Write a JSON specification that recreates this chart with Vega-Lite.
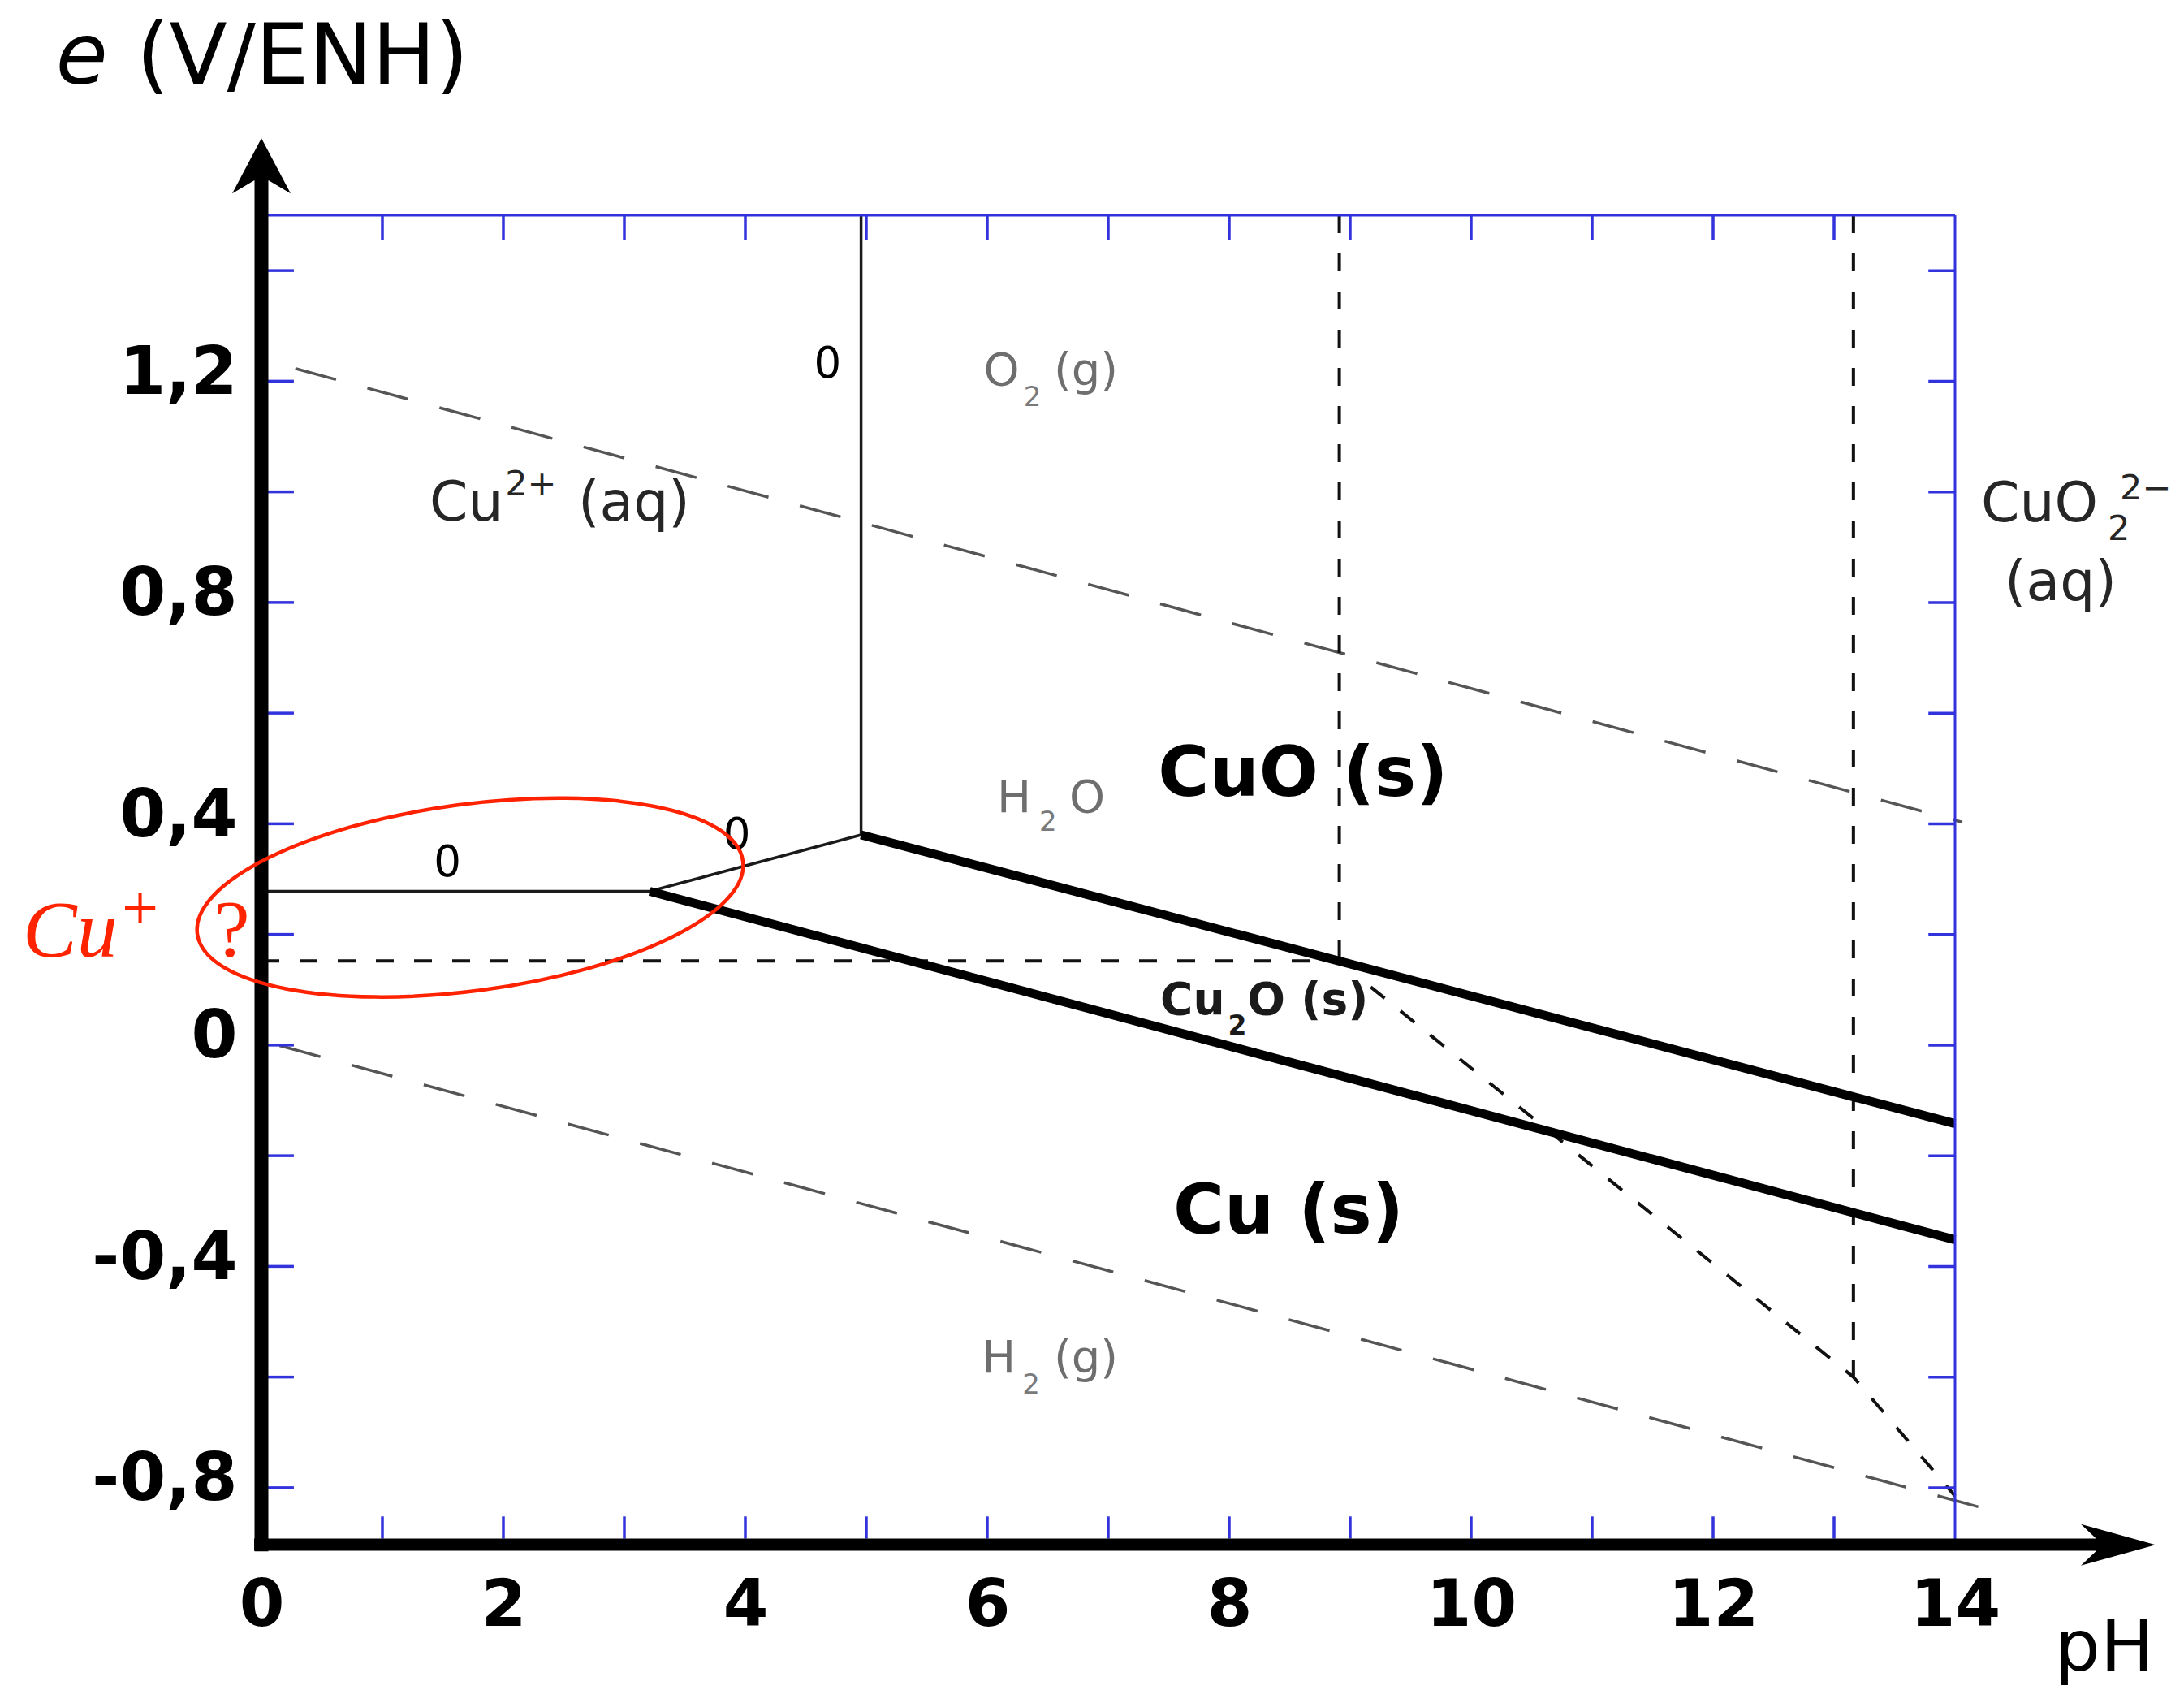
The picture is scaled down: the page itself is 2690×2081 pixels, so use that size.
{
  "$schema": "https://vega.github.io/schema/vega-lite/v6.json",
  "width": 2086,
  "height": 1635,
  "autosize": {"type": "none"},
  "padding": {"left": 322, "top": 265, "right": 282, "bottom": 181},
  "background": "#ffffff",
  "config": {
    "view": {"stroke": null},
    "axis": {"grid": false, "title": null, "domain": false, "ticks": false, "tickSize": 0, "labelFlush": false, "labelOverlap": false},
    "axisX": {"labelFont": "DejaVu Sans", "labelFontWeight": "bold", "labelFontSize": 80, "labelColor": "#000000", "labelPadding": 38, "labelBaseline": "top", "labelAlign": "center"},
    "axisY": {"labelFont": "DejaVu Sans", "labelFontWeight": "bold", "labelFontSize": 82, "labelColor": "#000000", "labelPadding": 30, "labelBaseline": "alphabetic", "labelAlign": "right", "labelOffset": 15}
  },
  "datasets": {
    "water": [
      {"id": "o2", "pH": 0.28, "E": 1.223},
      {"id": "o2", "pH": 14.06, "E": 0.403},
      {"id": "h2", "pH": 0.15, "E": -0.001},
      {"id": "h2", "pH": 14.25, "E": -0.838}
    ],
    "dashed": [
      {"id": "h", "pH": 0, "E": 0.152},
      {"id": "h", "pH": 8.91, "E": 0.152},
      {"id": "v9", "pH": 8.91, "E": 1.5},
      {"id": "v9", "pH": 8.91, "E": 0.152},
      {"id": "v13", "pH": 13.16, "E": 1.5},
      {"id": "v13", "pH": 13.16, "E": -0.6},
      {"id": "d", "pH": 9.17, "E": 0.105},
      {"id": "d", "pH": 13.16, "E": -0.6},
      {"id": "d", "pH": 14.0, "E": -0.815}
    ],
    "thin": [
      {"id": "v5", "pH": 4.957, "E": 1.5},
      {"id": "v5", "pH": 4.957, "E": 0.38},
      {"id": "h28", "pH": 0, "E": 0.278},
      {"id": "h28", "pH": 3.21, "E": 0.278},
      {"id": "s", "pH": 3.21, "E": 0.278},
      {"id": "s", "pH": 4.957, "E": 0.38}
    ],
    "thick": [
      {"id": "a", "pH": 4.957, "E": 0.38},
      {"id": "a", "pH": 14, "E": -0.142},
      {"id": "b", "pH": 3.21, "E": 0.278},
      {"id": "b", "pH": 14, "E": -0.352}
    ],
    "frame": [
      {"pH": 0, "pH2": 14, "E": 1.5, "E2": 1.5},
      {"pH": 14, "pH2": 14, "E": -0.903, "E2": 1.5}
    ],
    "ticksPH": [
      {"pH": 1}, {"pH": 2}, {"pH": 3}, {"pH": 4}, {"pH": 5}, {"pH": 6}, {"pH": 7},
      {"pH": 8}, {"pH": 9}, {"pH": 10}, {"pH": 11}, {"pH": 12}, {"pH": 13}
    ],
    "ticksE": [
      {"E": -0.8}, {"E": -0.6}, {"E": -0.4}, {"E": -0.2}, {"E": 0}, {"E": 0.2},
      {"E": 0.4}, {"E": 0.6}, {"E": 0.8}, {"E": 1.0}, {"E": 1.2}, {"E": 1.4}
    ]
  },
  "layer": [
    {
      "data": {"name": "water"},
      "mark": {"type": "line", "color": "#555555", "strokeWidth": 3.5, "strokeDash": [52, 40]},
      "encoding": {
        "x": {
          "field": "pH", "type": "quantitative",
          "scale": {"domain": [0, 14], "nice": false, "zero": false},
          "axis": {"values": [0, 2, 4, 6, 8, 10, 12, 14], "format": "d", "title": null}
        },
        "y": {
          "field": "E", "type": "quantitative",
          "scale": {"domain": [-0.9, 1.5], "nice": false, "zero": false},
          "axis": {
            "values": [-0.8, -0.4, 0, 0.4, 0.8, 1.2],
            "labelExpr": "datum.value == 0 ? '0' : replace(replace(format(datum.value, '.1f'), '.', ','), '−', '-')",
            "title": null
          }
        },
        "detail": {"field": "id"}
      }
    },
    {
      "data": {"name": "dashed"},
      "mark": {"type": "line", "color": "#111111", "strokeWidth": 4, "strokeDash": [22, 25]},
      "encoding": {
        "x": {"field": "pH", "type": "quantitative", "title": null},
        "y": {"field": "E", "type": "quantitative", "title": null},
        "detail": {"field": "id"}
      }
    },
    {
      "data": {"name": "thin"},
      "mark": {"type": "line", "color": "#1a1a1a", "strokeWidth": 3.5},
      "encoding": {
        "x": {"field": "pH", "type": "quantitative", "title": null},
        "y": {"field": "E", "type": "quantitative", "title": null},
        "detail": {"field": "id"}
      }
    },
    {
      "data": {"name": "thick"},
      "mark": {"type": "line", "color": "#000000", "strokeWidth": 11},
      "encoding": {
        "x": {"field": "pH", "type": "quantitative", "title": null},
        "y": {"field": "E", "type": "quantitative", "title": null},
        "detail": {"field": "id"}
      }
    },
    {
      "data": {"name": "frame"},
      "mark": {"type": "rule", "color": "#3333dd", "strokeWidth": 3},
      "encoding": {
        "x": {"field": "pH", "type": "quantitative", "title": null},
        "x2": {"field": "pH2"},
        "y": {"field": "E", "type": "quantitative", "title": null},
        "y2": {"field": "E2"}
      }
    },
    {
      "data": {"name": "ticksPH"},
      "mark": {"type": "rule", "color": "#3333dd", "strokeWidth": 3.5},
      "encoding": {
        "x": {"field": "pH", "type": "quantitative", "title": null},
        "y": {"datum": 1.5, "type": "quantitative"},
        "y2": {"datum": 1.456}
      }
    },
    {
      "data": {"name": "ticksPH"},
      "mark": {"type": "rule", "color": "#3333dd", "strokeWidth": 3.5},
      "encoding": {
        "x": {"field": "pH", "type": "quantitative", "title": null},
        "y": {"datum": -0.852, "type": "quantitative"},
        "y2": {"datum": -0.892}
      }
    },
    {
      "data": {"name": "ticksE"},
      "mark": {"type": "rule", "color": "#3333dd", "strokeWidth": 3.5},
      "encoding": {
        "x": {"datum": 0.054, "type": "quantitative"},
        "x2": {"datum": 0.268},
        "y": {"field": "E", "type": "quantitative", "title": null}
      }
    },
    {
      "data": {"name": "ticksE"},
      "mark": {"type": "rule", "color": "#3333dd", "strokeWidth": 3.5},
      "encoding": {
        "x": {"datum": 13.78, "type": "quantitative"},
        "x2": {"datum": 14},
        "y": {"field": "E", "type": "quantitative", "title": null}
      }
    },
    {
      "data": {"values": [{}]},
      "mark": {"type": "rule", "color": "#000000", "strokeWidth": 17},
      "encoding": {
        "x": {"datum": 0, "type": "quantitative"},
        "y": {"datum": -0.915, "type": "quantitative"},
        "y2": {"datum": 1.563}
      }
    },
    {
      "data": {"values": [{}]},
      "mark": {"type": "rule", "color": "#000000", "strokeWidth": 15},
      "encoding": {
        "x": {"datum": -0.06, "type": "quantitative"},
        "x2": {"datum": 15.17},
        "y": {"datum": -0.903, "type": "quantitative"}
      }
    },
    {
      "data": {"values": [{"pH": 0, "E": 1.5892}]},
      "mark": {"type": "point", "shape": "M 0 -0.944 L 1 0.944 L 0.25 0.5 L -0.25 0.5 L -1 0.944 Z", "size": 5184, "filled": true, "color": "#000000", "opacity": 1, "strokeWidth": 0},
      "encoding": {
        "x": {"field": "pH", "type": "quantitative", "title": null},
        "y": {"field": "E", "type": "quantitative", "title": null}
      }
    },
    {
      "data": {"values": [{"pH": 15.349, "E": -0.9033}]},
      "mark": {"type": "point", "shape": "M 1 0 L -1 -0.554 L -0.587 -0.163 L -0.587 0.163 L -1 0.554 Z", "size": 8464, "filled": true, "color": "#000000", "opacity": 1, "strokeWidth": 0},
      "encoding": {
        "x": {"field": "pH", "type": "quantitative", "title": null},
        "y": {"field": "E", "type": "quantitative", "title": null}
      }
    },
    {
      "data": {"values": [{"t": "CuO (s)", "pH": 8.61, "E": 0.45}, {"t": "Cu (s)", "pH": 8.49, "E": -0.341}]},
      "mark": {"type": "text", "font": "DejaVu Sans", "fontWeight": "bold", "fontSize": 86, "color": "#000000", "align": "center", "baseline": "alphabetic"},
      "encoding": {
        "x": {"field": "pH", "type": "quantitative", "title": null},
        "y": {"field": "E", "type": "quantitative", "title": null},
        "text": {"field": "t"}
      }
    },
    {
      "data": {"values": [{"t": "Cu", "pH": 7.43, "E": 0.0553}, {"t": "O (s)", "pH": 8.15, "E": 0.0553}]},
      "mark": {"type": "text", "font": "DejaVu Sans", "fontWeight": "bold", "fontSize": 55, "color": "#1a1a1a", "align": "left", "baseline": "alphabetic"},
      "encoding": {
        "x": {"field": "pH", "type": "quantitative", "title": null},
        "y": {"field": "E", "type": "quantitative", "title": null},
        "text": {"field": "t"}
      }
    },
    {
      "data": {"values": [{"t": "2", "pH": 7.99, "E": 0.0186}]},
      "mark": {"type": "text", "font": "DejaVu Sans", "fontWeight": "bold", "fontSize": 33, "color": "#1a1a1a", "align": "left", "baseline": "alphabetic"},
      "encoding": {
        "x": {"field": "pH", "type": "quantitative", "title": null},
        "y": {"field": "E", "type": "quantitative", "title": null},
        "text": {"field": "t"}
      }
    },
    {
      "data": {"values": [
        {"t": "O", "pH": 5.97, "E": 1.193}, {"t": "(g)", "pH": 6.55, "E": 1.193},
        {"t": "H", "pH": 6.08, "E": 0.4208}, {"t": "O", "pH": 6.678, "E": 0.4208},
        {"t": "H", "pH": 5.953, "E": -0.592}, {"t": "(g)", "pH": 6.55, "E": -0.592}
      ]},
      "mark": {"type": "text", "font": "DejaVu Sans", "fontSize": 56, "color": "#6e6e6e", "align": "left", "baseline": "alphabetic"},
      "encoding": {
        "x": {"field": "pH", "type": "quantitative", "title": null},
        "y": {"field": "E", "type": "quantitative", "title": null},
        "text": {"field": "t"}
      }
    },
    {
      "data": {"values": [
        {"t": "2", "pH": 6.3, "E": 1.1546},
        {"t": "2", "pH": 6.43, "E": 0.387},
        {"t": "2", "pH": 6.29, "E": -0.63}
      ]},
      "mark": {"type": "text", "font": "DejaVu Sans", "fontSize": 34, "color": "#7a7a7a", "align": "left", "baseline": "alphabetic"},
      "encoding": {
        "x": {"field": "pH", "type": "quantitative", "title": null},
        "y": {"field": "E", "type": "quantitative", "title": null},
        "text": {"field": "t"}
      }
    },
    {
      "data": {"values": [
        {"t": "Cu", "pH": 1.389, "E": 0.948}, {"t": "(aq)", "pH": 2.617, "E": 0.948},
        {"t": "CuO", "pH": 14.215, "E": 0.9463}, {"t": "(aq)", "pH": 14.41, "E": 0.804}
      ]},
      "mark": {"type": "text", "font": "DejaVu Sans", "fontSize": 68, "color": "#262626", "align": "left", "baseline": "alphabetic"},
      "encoding": {
        "x": {"field": "pH", "type": "quantitative", "title": null},
        "y": {"field": "E", "type": "quantitative", "title": null},
        "text": {"field": "t"}
      }
    },
    {
      "data": {"values": [
        {"t": "2+", "pH": 2.015, "E": 0.9933},
        {"t": "2", "pH": 15.262, "E": 0.9126},
        {"t": "2−", "pH": 15.362, "E": 0.986}
      ]},
      "mark": {"type": "text", "font": "DejaVu Sans", "fontSize": 43, "color": "#262626", "align": "left", "baseline": "alphabetic"},
      "encoding": {
        "x": {"field": "pH", "type": "quantitative", "title": null},
        "y": {"field": "E", "type": "quantitative", "title": null},
        "text": {"field": "t"}
      }
    },
    {
      "data": {"values": [{"t": "0", "pH": 4.68, "E": 1.206}, {"t": "0", "pH": 1.537, "E": 0.305}, {"t": "0", "pH": 3.93, "E": 0.355}]},
      "mark": {"type": "text", "font": "DejaVu Sans", "fontSize": 53, "color": "#000000", "align": "center", "baseline": "alphabetic"},
      "encoding": {
        "x": {"field": "pH", "type": "quantitative", "title": null},
        "y": {"field": "E", "type": "quantitative", "title": null},
        "text": {"field": "t"}
      }
    },
    {
      "data": {"values": [{"t": "e", "pH": -1.70, "E": 1.7375}]},
      "mark": {"type": "text", "font": "DejaVu Sans", "fontStyle": "italic", "fontSize": 104, "color": "#000000", "align": "left", "baseline": "alphabetic"},
      "encoding": {
        "x": {"field": "pH", "type": "quantitative", "title": null},
        "y": {"field": "E", "type": "quantitative", "title": null},
        "text": {"field": "t"}
      }
    },
    {
      "data": {"values": [{"t": "(V/ENH)", "pH": -1.034, "E": 1.7375}]},
      "mark": {"type": "text", "font": "DejaVu Sans", "fontSize": 104, "color": "#000000", "align": "left", "baseline": "alphabetic"},
      "encoding": {
        "x": {"field": "pH", "type": "quantitative", "title": null},
        "y": {"field": "E", "type": "quantitative", "title": null},
        "text": {"field": "t"}
      }
    },
    {
      "data": {"values": [{"t": "pH", "pH": 14.826, "E": -1.1307}]},
      "mark": {"type": "text", "font": "DejaVu Sans", "fontSize": 88, "color": "#000000", "align": "left", "baseline": "alphabetic"},
      "encoding": {
        "x": {"field": "pH", "type": "quantitative", "title": null},
        "y": {"field": "E", "type": "quantitative", "title": null},
        "text": {"field": "t"}
      }
    },
    {
      "data": {"values": [{"t": "Cu", "pH": -1.973, "E": 0.1595}]},
      "mark": {"type": "text", "font": "Liberation Serif", "fontStyle": "italic", "fontSize": 100, "color": "#ff2400", "align": "left", "baseline": "alphabetic"},
      "encoding": {
        "x": {"field": "pH", "type": "quantitative", "title": null},
        "y": {"field": "E", "type": "quantitative", "title": null},
        "text": {"field": "t"}
      }
    },
    {
      "data": {"values": [{"t": "+", "pH": -1.154, "E": 0.208}]},
      "mark": {"type": "text", "font": "Liberation Serif", "fontSize": 80, "color": "#ff2400", "align": "left", "baseline": "alphabetic"},
      "encoding": {
        "x": {"field": "pH", "type": "quantitative", "title": null},
        "y": {"field": "E", "type": "quantitative", "title": null},
        "text": {"field": "t"}
      }
    },
    {
      "data": {"values": [{"t": "?", "pH": -0.245, "E": 0.1607}]},
      "mark": {"type": "text", "font": "Liberation Serif", "fontSize": 100, "color": "#ff2400", "align": "center", "baseline": "alphabetic"},
      "encoding": {
        "x": {"field": "pH", "type": "quantitative", "title": null},
        "y": {"field": "E", "type": "quantitative", "title": null},
        "text": {"field": "t"}
      }
    },
    {
      "data": {"values": [{"pH": 1.725, "E": 0.2667}]},
      "mark": {"type": "point", "shape": "M -1 0 C -1 -0.1873 -0.5523 -0.339 0 -0.339 C 0.5523 -0.339 1 -0.1873 1 0 C 1 0.1873 0.5523 0.339 0 0.339 C -0.5523 0.339 -1 0.1873 -1 0 Z", "size": 459684, "angle": 352.4, "filled": false, "color": "#ff2200", "opacity": 1, "strokeWidth": 4.5},
      "encoding": {
        "x": {"field": "pH", "type": "quantitative", "title": null},
        "y": {"field": "E", "type": "quantitative", "title": null}
      }
    }
  ]
}
